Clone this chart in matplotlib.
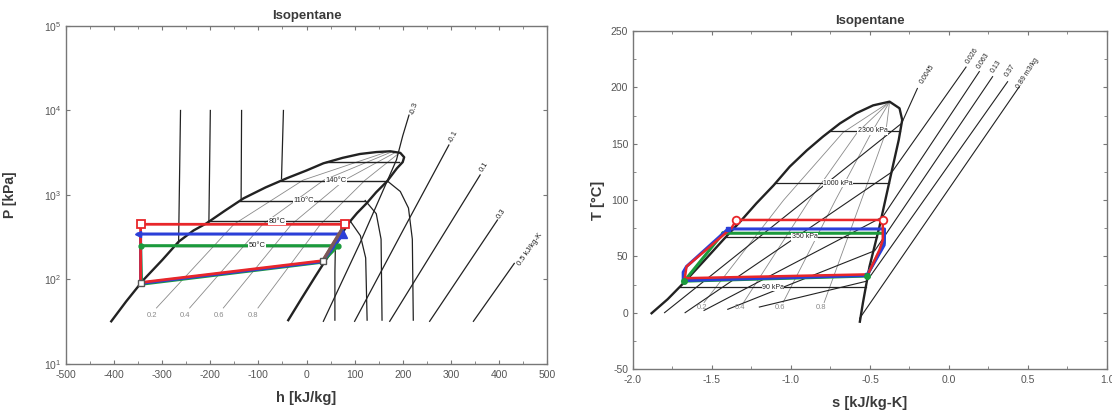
import matplotlib
matplotlib.use("Agg")
import matplotlib.pyplot as plt
from matplotlib.ticker import MultipleLocator, NullLocator, FormatStrFormatter

plt.rcParams['font.family'] = ['Liberation Sans', 'DejaVu Sans']
plt.rcParams['axes.unicode_minus'] = False

# ---------------- P-h data (h in kJ/kg, P in kPa) ----------------
dome_h = [-406, -375, -339, -300, -266, -235, -208, -170, -131, -85, -41, 0, 35, 75,
          111, 145, 174, 195, 203, 200, 188, 167, 145, 125, 105, 90, 75, 63, 40, 18, -10, -38]
dome_P = [32, 55, 99, 170, 280, 380, 462, 650, 912, 1230, 1578, 1950, 2370, 2750,
          3055, 3220, 3290, 3150, 2800, 2450, 2070, 1440, 1080, 798, 610, 483, 360, 268, 170, 108, 60, 33]

# saturated isotherms inside the dome: T label, P, h_liquid, h_vapour
sat_T = ['50°C', '80°C', '110°C', '140°C', '']
sat_P = [250, 490, 860, 1465, 2480]
sat_h_liq = [-272, -205, -138, -53, 40]
sat_h_vap = [62, 91, 122, 168, 193]
sat_lab_h = [-103, -62, -6, 61, 0]

# compressed-liquid isotherms (top at 10^4 kPa, bottom on liquid line)
liqT_h_top = [-262, -200, -135, -48]
liqT_h_bot = [-266, -203, -136, -52]
liqT_P_bot = [270, 480, 900, 1570]

# superheated isotherms
vapT_h = [[60, 59, 59],
          [91, 112, 123, 126],
          [122, 145, 155, 157],
          [168, 195, 212, 220, 222]]
vapT_P = [[250, 120, 33],
          [490, 330, 180, 33],
          [860, 600, 300, 33],
          [1465, 1100, 700, 300, 33]]

# isentropes
isen_lab = ['-0.3', '-0.1', '0.1', '0.3', '0.5 kJ/kg-K']
isen_h = [[35, 111, 187, 200, 213], [100, 201, 296], [173, 268, 361], [256, 397], [347, 432]]
isen_P = [[32, 268, 2600, 5000, 8800], [32, 385, 3900], [32, 240, 1726], [32, 506], [32, 155]]
isen_lab_h = [224, 306, 369, 406, 465]
isen_lab_P = [10500, 4900, 2160, 600, 230]
isen_rot = [72, 62, 58, 56, 55]

# vapour quality lines
qual_lab = ['0.2', '0.4', '0.6', '0.8']
qual_h = [[-312, -151, -7, 165], [-243, -91, 36, 175], [-173, -31, 79, 183], [-101, 29, 122, 190]]
qual_P = [[46, 450, 1500, 3200], [46, 450, 1500, 3200], [46, 450, 1500, 3150], [46, 450, 1500, 3050]]
qual_lab_h = [-322, -253, -183, -111]

# cycles (P-h)
red_h = [-345, 80, 34, -345, -345]
red_P = [450, 450, 167, 92, 450]
blue_h = [-350, 76, 33, -345, -345]
blue_P = [345, 345, 163, 90, 345]
green_h = [-345, 66, 32, -343, -345]
green_P = [251, 251, 160, 88, 251]

# ---------------- T-s data (s in kJ/kg-K, T in °C) ----------------
ts_dome_s = [-1.882, -1.78, -1.682, -1.55, -1.43, -1.32, -1.219, -1.11, -1.008, -0.9, -0.798,
             -0.69, -0.587, -0.48, -0.376, -0.313, -0.296, -0.318, -0.356, -0.398, -0.44,
             -0.503, -0.545, -0.564]
ts_dome_T = [-0.5, 12, 26, 46, 64.5, 81, 97, 113, 129.6, 144, 156.2,
             168, 177, 184, 187.3, 181.4, 171, 153.3, 129.6, 103, 76.4,
             40.9, 8.4, -8]

isobar_lab = ['2300 kPa', '1000 kPa', '350 kPa', '90 kPa']
isobar_T = [161.5, 114.8, 67.5, 22.6]
isobar_s_liq = [-0.76, -1.1, -1.41, -1.70]
isobar_s_vap = [-0.31, -0.378, -0.455, -0.525]
isobar_lab_s = [-0.482, -0.703, -0.913, -1.114]

ts_qual_s = [[-1.55, -1.046, -0.67, -0.376], [-1.30, -0.882, -0.58, -0.376],
             [-1.05, -0.718, -0.49, -0.376], [-0.79, -0.554, -0.40, -0.376]]
ts_qual_T = [[9, 100, 160, 187], [9, 100, 160, 187], [9, 100, 160, 187], [9, 100, 160, 187]]
ts_qual_lab_s = [-1.566, -1.324, -1.071, -0.808]

isochore_lab = ['0.0045', '0.026', '0.063', '0.13', '0.37', '0.89 m3/kg']
isochore_s = [[-1.80, -0.30, -0.20], [-1.67, -0.36, 0.108], [-1.55, -0.42, 0.192],
              [-1.40, -0.47, 0.276], [-1.20, -0.52, 0.371], [-0.565, 0.445]]
isochore_T = [[0, 168, 199], [0, 125, 218], [2, 85, 214], [3, 55, 209.5], [5, 28, 205], [-5, 200.6]]
isochore_lab_s = [-0.14, 0.15, 0.215, 0.30, 0.39, 0.50]
isochore_lab_T = [212, 228, 224, 219, 215, 212]

red_s = [-1.345, -0.419, -0.419, -0.44, -0.513, -1.672, -1.661, -1.377, -1.345]
red_T = [82.3, 82.3, 64.5, 55.7, 34, 30.6, 40.9, 75, 82.3]
blue_s = [-1.398, -0.408, -0.41, -0.43, -0.52, -1.682, -1.682, -1.661, -1.398]
blue_T = [74.3, 74.3, 60, 55, 33, 28.5, 36, 41, 74.3]
green_s = [-1.43, -0.408, -0.41, -0.44, -0.52, -1.675, -1.43]
green_T = [70.5, 70.5, 62, 54, 32.5, 28, 70.5]

RED = '#e8262a'
BLUE = '#2b3fd8'
GREEN = '#1b9a3c'
INK = '#222222'
GREY = '#8a8a8a'
TXT = '#3a3a3a'

fig = plt.figure(figsize=(11.12, 4.19), dpi=100)
ax1 = fig.add_axes([0.0594, 0.1313, 0.4325, 0.8067])
ax2 = fig.add_axes([0.5692, 0.1193, 0.4263, 0.8067])

lab_box = dict(fc='white', ec='none', pad=0.3)

# ---------------- left panel ----------------
ax1.set_yscale('log')
for hh, pp in zip(qual_h, qual_P):
    ax1.plot(hh, pp, color=GREY, lw=0.6)
for lab, hh in zip(qual_lab, qual_lab_h):
    ax1.text(hh, 37, lab, fontsize=5.5, color=GREY, ha='center', va='center')

for lab, p, hl, hv, hlab in zip(sat_T, sat_P, sat_h_liq, sat_h_vap, sat_lab_h):
    ax1.plot([hl, hv], [p, p], color=INK, lw=1.0)
    if lab:
        ax1.text(hlab, p, lab, fontsize=5.5, color=INK, ha='center', va='center', bbox=lab_box)

for ht, hb, pb in zip(liqT_h_top, liqT_h_bot, liqT_P_bot):
    ax1.plot([ht, hb], [1e4, pb], color=INK, lw=0.9)
for hh, pp in zip(vapT_h, vapT_P):
    ax1.plot(hh, pp, color=INK, lw=0.9)
for lab, hh, pp, lh, lp, rot in zip(isen_lab, isen_h, isen_P, isen_lab_h, isen_lab_P, isen_rot):
    ax1.plot(hh, pp, color=INK, lw=0.9)
    ax1.text(lh, lp, lab, fontsize=5.5, color=INK, rotation=rot, ha='center', va='center')

ax1.plot(dome_h, dome_P, color=INK, lw=1.7)

ax1.plot(green_h, green_P, color=GREEN, lw=2.2)
ax1.plot(blue_h, blue_P, color=BLUE, lw=2.2)
ax1.plot(red_h, red_P, color=RED, lw=2.0)
ax1.plot([34, 80], [167, 450], color='#7a5a5a', lw=2.4)
ax1.plot([red_h[0], red_h[1]], [red_P[0], red_P[1]], ls='none', marker='s', ms=5.5,
         mfc='white', mec=RED, mew=1.3)
ax1.plot([red_h[2], red_h[3]], [red_P[2], red_P[3]], ls='none', marker='s', ms=5,
         mfc='white', mec='#555555', mew=1.0)
ax1.plot([blue_h[1]], [blue_P[1]], ls='none', marker='^', ms=6, color=BLUE)
ax1.plot([blue_h[0]], [blue_P[0]], ls='none', marker='<', ms=4.5, color=BLUE)
ax1.plot([green_h[0], green_h[1]], [green_P[0], green_P[1]], ls='none', marker='o', ms=3.5, color=GREEN)

ax1.set_xlim(-500, 500)
ax1.set_ylim(10, 1e5)
ax1.xaxis.set_major_locator(MultipleLocator(100))
ax1.xaxis.set_minor_locator(MultipleLocator(50))
ax1.yaxis.set_minor_locator(NullLocator())
ax1.set_title('Isopentane', fontsize=9.5, fontweight='bold', color=TXT, pad=5)
ax1.set_xlabel('h [kJ/kg]', fontsize=10.5, fontweight='bold', color=TXT, labelpad=8)
ax1.set_ylabel('P [kPa]', fontsize=10, fontweight='bold', color=TXT)
ax1.yaxis.set_label_coords(-0.102, 0.5)

# ---------------- right panel ----------------
for ss, tt in zip(ts_qual_s, ts_qual_T):
    ax2.plot(ss, tt, color=GREY, lw=0.6)
for lab, ss in zip(qual_lab, ts_qual_lab_s):
    ax2.text(ss, 5, lab, fontsize=5.5, color=GREY, ha='center', va='center')

for lab, ss, tt, ls_, lt in zip(isochore_lab, isochore_s, isochore_T, isochore_lab_s, isochore_lab_T):
    ax2.plot(ss, tt, color=INK, lw=0.8)
    ax2.text(ls_, lt, lab, fontsize=5, color=INK, rotation=57, ha='center', va='center')

for lab, t, sl, sv, slab in zip(isobar_lab, isobar_T, isobar_s_liq, isobar_s_vap, isobar_lab_s):
    ax2.plot([sl, sv], [t, t], color=INK, lw=0.9)
    ax2.text(slab, t, lab, fontsize=5, color=INK, ha='center', va='center', bbox=lab_box)

ax2.plot(ts_dome_s, ts_dome_T, color=INK, lw=1.7)

ax2.plot(green_s, green_T, color=GREEN, lw=2.2)
ax2.plot(blue_s, blue_T, color=BLUE, lw=2.2)
ax2.plot(red_s, red_T, color=RED, lw=1.8)
ax2.plot([red_s[0], red_s[1]], [red_T[0], red_T[1]], ls='none', marker='o', ms=5.5,
         mfc='white', mec=RED, mew=1.3)
ax2.plot([blue_s[0], blue_s[4]], [blue_T[0], blue_T[4]], ls='none', marker='s', ms=3.5, color=BLUE)
ax2.plot([green_s[4], green_s[5]], [green_T[4], green_T[5]], ls='none', marker='o', ms=4, color=GREEN)

ax2.set_xlim(-2.0, 1.0)
ax2.set_ylim(-50, 250)
ax2.xaxis.set_major_locator(MultipleLocator(0.5))
ax2.xaxis.set_minor_locator(MultipleLocator(0.25))
ax2.xaxis.set_major_formatter(FormatStrFormatter('%.1f'))
ax2.yaxis.set_major_locator(MultipleLocator(50))
ax2.yaxis.set_minor_locator(MultipleLocator(25))
ax2.set_title('Isopentane', fontsize=9.5, fontweight='bold', color=TXT, pad=5)
ax2.set_xlabel('s [kJ/kg-K]', fontsize=10.5, fontweight='bold', color=TXT, labelpad=8)
ax2.set_ylabel('T [°C]', fontsize=10.5, fontweight='bold', color=TXT, labelpad=4)

for ax in (ax1, ax2):
    for sp in ax.spines.values():
        sp.set_color('#777777')
        sp.set_linewidth(1.0)
    ax.tick_params(which='both', direction='in', top=True, right=True,
                   labelsize=7.5, labelcolor='#555555', color='#777777')
    ax.tick_params(which='major', length=3)
    ax.tick_params(which='minor', length=2)
    ax.tick_params(axis='x', pad=4)

fig.savefig('out.png', dpi=100)
